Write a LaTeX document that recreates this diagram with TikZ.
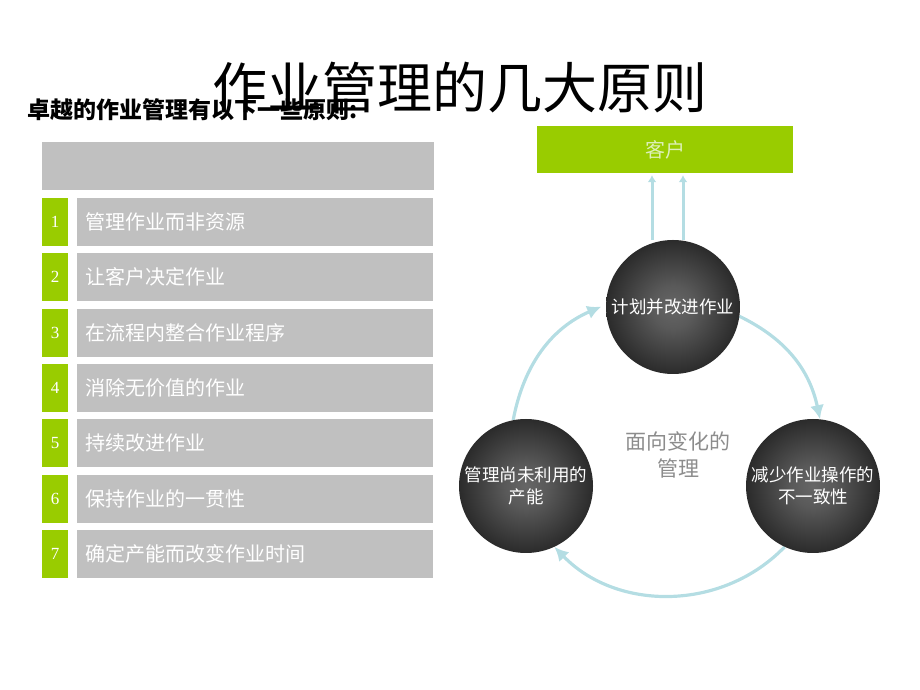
\documentclass[tikz,border=0pt]{standalone}
\usepackage{fontspec}
\setmainfont{Liberation Serif}
\newfontfamily\cjk{Noto Sans CJK SC}
\usepackage{tikz}
\usetikzlibrary{shapes,arrows.meta,backgrounds}
\definecolor{leafgreen}{HTML}{99CC00}
\definecolor{barsilver}{HTML}{C0C0C0}
\definecolor{paleblue}{HTML}{B4DDE3}
\definecolor{palegreen}{HTML}{DDF0B8}
\definecolor{midgray}{HTML}{8C8C8C}
\pgfdeclareradialshading{ballglow}{\pgfpoint{0bp}{0bp}}{color(0bp)=(black!60); color(8bp)=(black!65); color(36bp)=(black!95); color(50bp)=(black)}
\tikzstyle{bar} = [rectangle, fill=barsilver, text width=340pt, inner xsep=8pt, minimum width=356pt, minimum height=48pt, align=left, text=white, font=\cjk\fontsize{20}{20}\selectfont]
\tikzstyle{numbox} = [rectangle, fill=leafgreen, minimum width=26pt, minimum height=48pt, inner sep=0pt, text=white, font=\fontsize{17}{17}\selectfont]
\tikzstyle{ball} = [circle, shade, shading=ballglow, minimum size=134pt, inner sep=0pt, text=white, align=center, font=\cjk\fontsize{17.5}{22}\selectfont]
\tikzstyle{custbox} = [rectangle, fill=leafgreen, minimum width=256pt, minimum height=47pt, text=palegreen, font=\cjk\fontsize{20}{20}\selectfont]
\tikzstyle{line} = [draw=paleblue, line width=3.2pt, -{Latex[length=14pt,width=14pt]}]
\tikzstyle{uparrow} = [draw=paleblue, line width=3pt, -{Latex[length=7pt,width=9pt]}]

\begin{document}
\begin{tikzpicture}[x=1pt, y=1pt]
        \useasboundingbox (0,0) rectangle (920,690);

        % Place nodes
        \node (title) at (460,602) {\cjk\fontsize{55}{55}\selectfont 作业管理的几大原则};
        \node [anchor=west, inner sep=0pt] (lead) at (27,580) {\cjk\bfseries\fontsize{23}{23}\selectfont 卓越的作业管理有以下一些原则:};

        \node [rectangle, fill=barsilver, minimum width=392pt, minimum height=48pt] (head) at (238,524) {};
        \foreach \n/\txt [count=\i from 0] in {1/管理作业而非资源, 2/让客户决定作业, 3/在流程内整合作业程序, 4/消除无价值的作业, 5/持续改进作业, 6/保持作业的一贯性, 7/确定产能而改变作业时间}
        {
            \node [numbox] (num\n) at (55,468-55.33*\i) {\n};
            \node [bar] (row\n) at (255,468-55.33*\i) {\txt};
        }

        \node [custbox] (cust) at (665,540.5) {客户};
        \node [ball] (top) at (673,383) {计划并改进作业};
        \node [ball] (left) at (526,204) {管理尚未利用的\\产能};
        \node [ball] (right) at (813,204) {减少作业操作的\\不一致性};
        \node [align=center, text=midgray, font=\cjk\fontsize{21}{27}\selectfont] (focus) at (678,235) {面向变化的\\管理};

        \coordinate (outl) at ([xshift=-13pt]cust.south);
        \coordinate (outr) at ([xshift=18pt]cust.south);

        % Draw edges
        \begin{pgfonlayer}{background}
            \path [uparrow, shorten >=2pt] (outl |- top.north) -- (outl);
            \path [uparrow, shorten >=2pt] (outr |- top.north) -- (outr);
            \path [line, shorten >=5pt] (left.101) to[bend left=28] (top.178);
            \path [line] (top.-8) to[bend left=26] (right.84);
            \path [line] (right.245) to[bend left=46] (left.-65);
        \end{pgfonlayer}
    \end{tikzpicture}
\end{document}
